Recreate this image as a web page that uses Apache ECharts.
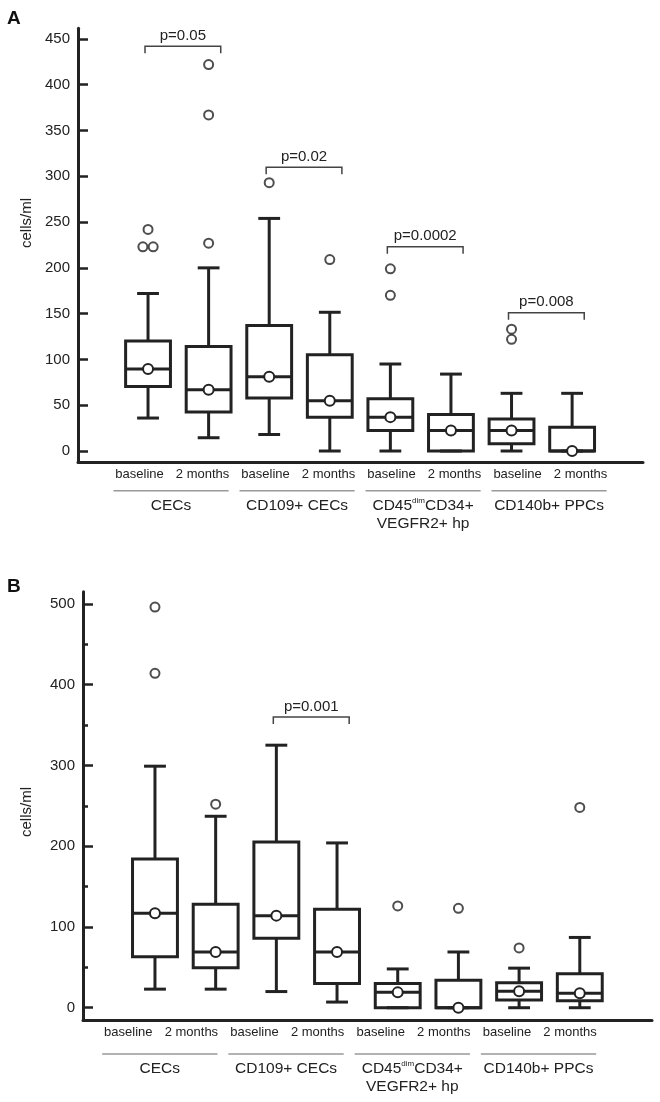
<!DOCTYPE html>
<html><head><meta charset="utf-8">
<script src="https://cdn.jsdelivr.net/npm/echarts@6/dist/echarts.min.js"></script>
<style>html,body{margin:0;padding:0;background:#fff}#c{width:660px;height:1102px}</style>
</head><body><div id="c"></div>
<script>
// ---------- DATA ----------
const timeLabels = ['baseline','2 months','baseline','2 months','baseline','2 months','baseline','2 months'];
const groupLabels = ['CECs','CD109+ CECs','CD45^dim^CD34+\nVEGFR2+ hp','CD140b+ PPCs'];
const yTicksA = [0,50,100,150,200,250,300,350,400,450];
const yTicksB = [0,100,200,300,400,500];
const yMinorB = [50,150,250,350,450];
const yName = 'cells/ml';
// box stats per category: [low whisker, Q1, median, Q3, high whisker]
const boxA = [
  [36, 70.5, 89.5, 120, 172],
  [14.5, 42.5, 67, 114, 200],
  [18, 58, 81, 137, 254],
  [0, 37, 55, 105, 151.5],
  [0, 22.5, 37, 57, 95],
  [0, 0, 22.5, 40, 84],
  [0, 8, 22.5, 35, 63],
  [0, 0, 0, 26, 63]
];
// outliers: [category index, value]
const outA = [[0,242],[0,223],[0,223],[1,422],[1,367],[1,227],[2,293],[3,209],[4,199],[4,170],[6,133],[6,122]];
// p-values: [label, from category, to category, bracket level]
const pA = [['p=0.05',0,1,442],['p=0.02',2,3,310],['p=0.0002',4,5,223],['p=0.008',6,7,151]];

const boxB = [
  [23, 63, 117, 184, 299],
  [23, 49.5, 69, 128, 237],
  [20, 86, 114, 205, 325],
  [7, 30, 69, 122, 204],
  [0, 0, 19, 30, 48],
  [0, 0, 0, 34, 69],
  [0, 9.5, 20.5, 31, 49],
  [0, 8.5, 18, 42, 87]
];
const outB = [[0,496],[0,414],[1,252],[4,126],[5,123],[6,74],[7,248]];
const pB = [['p=0.001',2,3,360]];

// ---------- LAYOUT / STYLE ----------
const FONT = '"Liberation Sans", Arial, sans-serif';
const INK = '#222';
const panels = [
  {letter:'A', box:boxA, out:outA, p:pA, ticks:yTicksA, minor:null,
   grid:{left:78, right:17, top:28.3, bottom:640}, yMin:-12, yMax:461.6, xMin:-1.156, xMax:8.17,
   shift:0, spread:1.04, under:28.7, letterPos:[7,9], namePos:[27,223]},
  {letter:'B', box:boxB, out:outB, p:pB, ticks:yTicksB, minor:yMinorB,
   grid:{left:83, right:8, top:591.7, bottom:82}, yMin:-15.2, yMax:515, xMin:-1.186, xMax:8.19,
   shift:-0.3, spread:1.04, under:34, letterPos:[7,577], namePos:[27,812]}
];

function labelPos(P, v){ return 3.5 + (v - 3.5) * P.spread + P.shift; }
function richLabel(s){
  return s.split('\n').map(line => line.split('^').map((t,k)=> t ? '{' + (k%2 ? 's' : 'n') + '|' + t + '}' : '').join('')).join('\n');
}

const grids=[], xAxes=[], yAxes=[], series=[], graphics=[];
panels.forEach((P, pi) => {
  grids.push(Object.assign({containLabel:false}, P.grid));
  const labPositions = timeLabels.map((_, i) => labelPos(P, i));
  xAxes.push({
    type:'value', gridIndex:pi, min:P.xMin, max:P.xMax,
    axisLine:{show:true, onZero:false, lineStyle:{color:INK, width:3}},
    axisTick:{show:false}, splitLine:{show:false},
    axisLabel:{show:true, customValues:labPositions, margin:6, color:INK, fontSize:13, fontFamily:FONT,
      formatter: v => timeLabels[Math.round((v - P.shift - 3.5)/P.spread + 3.5)]}
  });
  yAxes.push({
    type:'value', gridIndex:pi, min:P.yMin, max:P.yMax,
    axisLine:{show:true, onZero:false, lineStyle:{color:INK, width:3}},
    axisTick:{show:true, inside:true, length:10, customValues:P.ticks, lineStyle:{color:INK, width:2.5}},
    axisLabel:{show:true, customValues:P.ticks, margin:8, color:INK, fontSize:15, fontFamily:FONT},
    splitLine:{show:false}
  });
  const yIdx = yAxes.length - 1;
  if (P.minor) {
    yAxes.push({
      type:'value', gridIndex:pi, min:P.yMin, max:P.yMax, position:'left',
      axisLine:{show:false, onZero:false},
      axisTick:{show:true, inside:true, length:5, customValues:P.minor, lineStyle:{color:INK, width:2.5}},
      axisLabel:{show:false}, splitLine:{show:false}
    });
  }
  // boxes
  series.push({
    type:'custom', xAxisIndex:pi, yAxisIndex:yIdx, clip:false, z:3,
    data: P.box.map((b, i) => [i].concat(b)),
    renderItem: (params, api) => {
      const x = api.value(0);
      const c = k => api.coord([x, api.value(k)]);
      const pLo=c(1), pQ1=c(2), pMd=c(3), pQ3=c(4), pHi=c(5);
      const unit = api.size([1,0])[0];
      const bw = unit*0.74, cw = unit*0.36, cx = pMd[0];
      const st = {stroke:INK, lineWidth:3, fill:null};
      const ln = (x1,y1,x2,y2) => ({type:'line', shape:{x1,y1,x2,y2}, style:st});
      return {type:'group', children:[
        ln(cx, pHi[1], cx, pQ3[1]),
        ln(cx, pQ1[1], cx, pLo[1]),
        ln(cx-cw/2, pHi[1], cx+cw/2, pHi[1]),
        ln(cx-cw/2, pLo[1], cx+cw/2, pLo[1]),
        {type:'rect', shape:{x:cx-bw/2, y:pQ3[1], width:bw, height:pQ1[1]-pQ3[1]}, style:{stroke:INK, lineWidth:3, fill:'rgba(0,0,0,0)'}},
        ln(cx-bw/2, pMd[1], cx+bw/2, pMd[1]),
        {type:'circle', shape:{cx:cx, cy:pMd[1], r:5}, style:{fill:'#fff', stroke:INK, lineWidth:2}}
      ]};
    }
  });
  // outliers (identical values in one category are spread side by side)
  const counts = {}, seen = {};
  P.out.forEach(o => { const k = o[0]+'_'+o[1]; counts[k] = (counts[k]||0)+1; });
  const outData = P.out.map(o => {
    const k = o[0]+'_'+o[1]; const n = counts[k]; const j = seen[k] = (seen[k]||0);
    seen[k]++;
    return [o[0] + (n > 1 ? (j - (n-1)/2) * 0.17 : 0), o[1]];
  });
  series.push({
    type:'scatter', xAxisIndex:pi, yAxisIndex:yIdx, z:4, symbol:'circle', symbolSize:9,
    itemStyle:{color:'#fff', borderColor:INK, borderWidth:2}, data: outData, silent:true
  });
  // p-value brackets
  series.push({
    type:'custom', xAxisIndex:pi, yAxisIndex:yIdx, clip:false, z:5,
    data: P.p.map(q => [q[1], q[2], q[3]]),
    renderItem: (params, api) => {
      const a = api.coord([api.value(0) - 0.05, api.value(2)]);
      const b = api.coord([api.value(1) + 0.2, api.value(2)]);
      const h = 7;
      return {type:'group', children:[
        {type:'polyline', shape:{points:[[a[0], a[1]+h],[a[0], a[1]],[b[0], a[1]],[b[0], a[1]+h]]}, style:{stroke:'#444', lineWidth:1.5, fill:null}},
        {type:'text', x:(a[0]+b[0])/2, y:a[1]-3, style:{text:P.p[params.dataIndex][0], align:'center', verticalAlign:'bottom', fill:INK, fontSize:15, fontFamily:FONT}}
      ]};
    }
  });
  // group underlines and group labels
  series.push({
    type:'custom', xAxisIndex:pi, yAxisIndex:yIdx, clip:false, z:5,
    data: groupLabels.map((g, gi) => [gi]),
    renderItem: (params, api) => {
      const gc = labelPos(P, 2*api.value(0) + 0.5);
      const l = api.coord([gc - 0.95, P.yMin]);
      const r = api.coord([gc + 0.95, P.yMin]);
      const y = l[1] + P.under;
      return {type:'group', children:[
        {type:'line', shape:{x1:l[0], y1:y, x2:r[0], y2:y}, style:{stroke:'#999', lineWidth:1.5}},
        {type:'text', x:(l[0]+r[0])/2, y:y+6, style:{
          text: richLabel(groupLabels[params.dataIndex]), align:'center', verticalAlign:'top', fill:INK,
          fontFamily:FONT, fontSize:15.5,
          rich:{n:{fontSize:15.5, lineHeight:18, fontFamily:FONT, fill:INK, color:INK},
                s:{fontSize:8, lineHeight:18, verticalAlign:'top', fontFamily:FONT, fill:INK, color:INK, padding:[0,0,0,0]}}
        }}
      ]};
    }
  });
  graphics.push({type:'text', x:P.letterPos[0], y:P.letterPos[1], style:{text:P.letter, fontSize:19, fontWeight:'bold', fontFamily:FONT, fill:'#111'}});
  graphics.push({type:'text', x:P.namePos[0], y:P.namePos[1], rotation:Math.PI/2, style:{text:yName, fontSize:15, fontFamily:FONT, fill:INK, align:'center', verticalAlign:'middle'}});
});

const chart = echarts.init(document.getElementById('c'), null, {renderer:'canvas'});
chart.setOption({
  animation:false, backgroundColor:'#fff',
  grid:grids, xAxis:xAxes, yAxis:yAxes, series:series, graphic:graphics
});
</script></body></html>
